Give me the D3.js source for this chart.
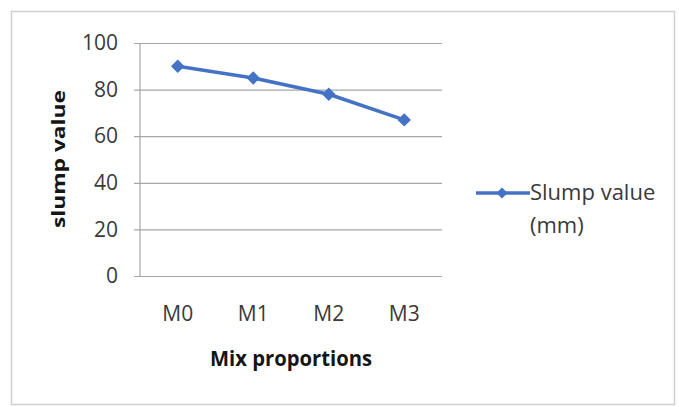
<!DOCTYPE html>
<html>
<head>
<meta charset="utf-8">
<script src="https://cdn.jsdelivr.net/npm/d3@7"></script>
<style>
  html, body { margin: 0; padding: 0; background: #fff; }
  svg { display: block; }
  text { font-family: "Open Sans", Lato, sans-serif; }
</style>
</head>
<body>
<svg id="chart" width="679" height="407"></svg>
<script>
// Slump test results per mix proportion
const categories = ["M0", "M1", "M2", "M3"];
const slumpValues = [90, 85, 78, 67];
const yTicks = [0, 20, 40, 60, 80, 100];
const seriesName = ["Slump value", "(mm)"];
const xTitle = "Mix proportions";
const yTitle = "slump value";

const svg = d3.select("#chart");
const plot = { left: 140, right: 442, top: 43, bottom: 276 };
const blue = "#4472C4";

// chart frame
svg.append("rect")
  .attr("x", 11.5).attr("y", 11.5)
  .attr("width", 663).attr("height", 393)
  .attr("fill", "#fff").attr("stroke", "#cfcfcf").attr("stroke-width", 1.5);

const x = d3.scaleBand().domain(categories).range([plot.left, plot.right]);
const y = d3.scaleLinear().domain([0, 100]).range([plot.bottom, plot.top]);

// horizontal gridlines with outside tick stubs
const yAxis = d3.axisLeft(y).tickValues(yTicks)
  .tickSize(-(plot.right - plot.left)).tickSizeOuter(0);
const gy = svg.append("g").attr("transform", `translate(${plot.left},0)`).call(yAxis);
gy.select(".domain").remove();
gy.selectAll(".tick line")
  .attr("x1", -6)
  .attr("stroke", "#a6a6a6").attr("stroke-width", 1.2);
gy.selectAll(".tick text")
  .attr("x", -22)
  .attr("font-size", 21).attr("fill", "#3a3a3a");

// vertical axis line
svg.append("line")
  .attr("x1", plot.left).attr("x2", plot.left)
  .attr("y1", plot.top).attr("y2", plot.bottom)
  .attr("stroke", "#a6a6a6").attr("stroke-width", 1.2);

// category labels
const xAxis = d3.axisBottom(x).tickSize(0);
const gx = svg.append("g").attr("transform", `translate(0,${plot.bottom})`).call(xAxis);
gx.select(".domain").remove();
gx.selectAll(".tick text")
  .attr("y", 45).attr("dy", 0)
  .attr("font-size", 21).attr("fill", "#3a3a3a");

// axis titles
svg.append("text")
  .attr("x", 291).attr("y", 366)
  .attr("text-anchor", "middle")
  .attr("font-size", 21).attr("font-weight", "bold").attr("fill", "#151515")
  .attr("textLength", 162).attr("lengthAdjust", "spacingAndGlyphs")
  .text(xTitle);

svg.append("text")
  .attr("transform", "translate(65,159) rotate(-90)")
  .attr("text-anchor", "middle")
  .attr("font-size", 17).attr("font-weight", "bold").attr("fill", "#151515")
  .attr("textLength", 138).attr("lengthAdjust", "spacingAndGlyphs")
  .text(yTitle);

// series line and markers
const cx = d => x(d.cat) + x.bandwidth() / 2;
const pts = categories.map((c, i) => ({ cat: c, v: slumpValues[i] }));
svg.append("path")
  .datum(pts)
  .attr("fill", "none").attr("stroke", blue).attr("stroke-width", 3.5)
  .attr("stroke-linejoin", "round")
  .attr("d", d3.line().x(cx).y(d => y(d.v)));

const diamond = d3.symbol().type(d3.symbolSquare).size(90);
svg.selectAll(".marker").data(pts).join("path")
  .attr("class", "marker")
  .attr("transform", d => `translate(${cx(d)},${y(d.v)}) rotate(45)`)
  .attr("d", diamond)
  .attr("fill", blue);

// legend
const lg = svg.append("g").attr("transform", "translate(476,193)");
lg.append("line").attr("x1", 0).attr("x2", 54).attr("y1", 0).attr("y2", 0)
  .attr("stroke", blue).attr("stroke-width", 3.5);
lg.append("path").attr("transform", "translate(26,0) rotate(45)")
  .attr("d", d3.symbol().type(d3.symbolSquare).size(60)).attr("fill", blue);
lg.selectAll(".lt").data(seriesName).join("text")
  .attr("class", "lt")
  .attr("x", 54).attr("y", (d, i) => 7 + i * 33)
  .attr("font-size", 22).attr("fill", "#3a3a3a")
  .text(d => d);
</script>
</body>
</html>
